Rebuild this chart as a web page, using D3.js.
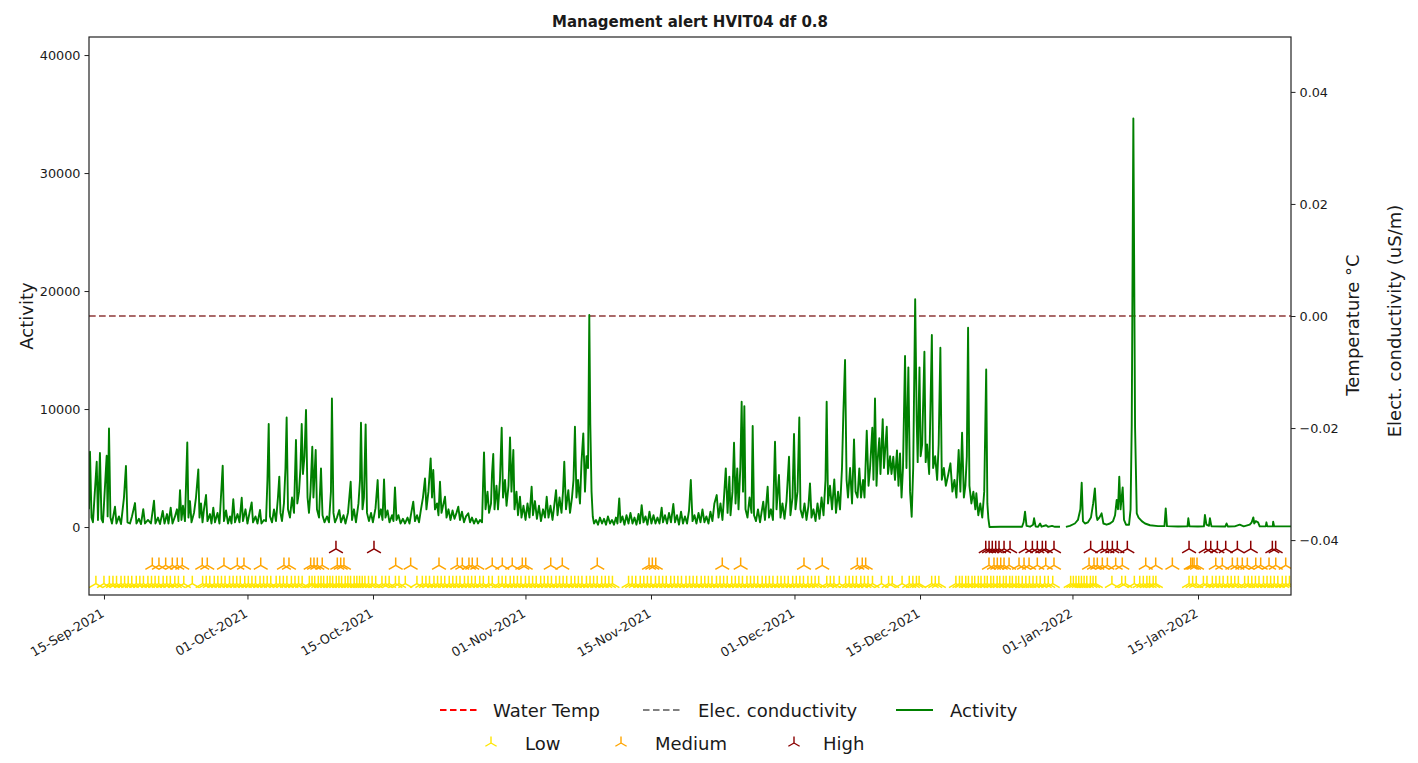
<!DOCTYPE html>
<html><head><meta charset="utf-8">
<script src="https://cdn.jsdelivr.net/npm/d3@7"></script>
<style>
body{margin:0;background:#fff}
text{font-family:"DejaVu Sans",sans-serif;fill:#1a1a1a}
</style>
</head><body>
<svg id="chart" width="1418" height="763"></svg>
<script>
// ---------------- DATA ----------------
// time is given as days since 15-Sep-2021 00:00
const dayZero = new Date(2021, 8, 15);
const xDomainDays = [-1.67, 132.37];

const activity = [
[-1.67,1500],[-1.56,6380],[-1.39,800],[-1.23,400],[-0.81,5530],[-0.67,600],[-0.45,6270],[-0.28,700],[-0.11,400],
[0.30,6040],[0.41,900],[0.56,8360],[0.72,800],[0.89,300],[1.23,1720],[1.39,300],[1.67,900],[1.90,250],[2.23,2500],
[2.45,5170],[2.62,400],[2.90,300],[3.12,900],[3.46,2030],[3.62,300],[3.90,700],[4.13,250],[4.38,1520],[4.57,300],
[4.91,600],[5.24,300],[5.58,2230],[5.74,300],[6.02,800],[6.25,250],[6.55,1360],[6.75,300],[7.03,1100],[7.19,300],
[7.44,1640],[7.64,300],[7.92,900],[8.14,1500],[8.31,500],[8.48,3130],[8.64,600],[8.81,1800],[9.03,500],[9.29,7170],
[9.42,800],[9.59,2200],[9.76,400],[10.04,1200],[10.26,2500],[10.52,4890],[10.65,800],[10.82,2000],[10.99,400],
[11.15,1500],[11.38,2710],[11.54,500],[11.82,1100],[11.99,300],[12.19,1640],[12.38,400],[12.66,1200],[12.88,300],
[13.24,5200],[13.38,500],[13.61,1400],[13.83,300],[14.05,900],[14.22,300],[14.42,2350],[14.61,400],[14.89,1100],
[15.11,400],[15.36,2480],[15.50,500],[15.78,1500],[16.00,300],[16.23,1200],[16.47,2090],[16.62,400],[16.90,900],
[17.12,300],[17.40,1440],[17.56,300],[17.84,600],[18.07,500],[18.23,4000],[18.37,8730],[18.51,900],[18.74,400],
[18.96,1500],[19.18,500],[19.40,2500],[19.55,4270],[19.68,1200],[19.85,500],[20.07,2000],[20.24,5000],[20.37,9290],
[20.52,1500],[20.74,800],[20.97,2500],[21.19,1200],[21.41,7370],[21.56,2000],[21.75,3000],[21.91,5000],[22.05,8730],
[22.19,4500],[22.36,6000],[22.53,9920],[22.70,2500],[22.86,1200],[23.03,3000],[23.23,6810],[23.36,2500],[23.61,6530],
[23.75,1500],[23.98,800],[24.20,4970],[24.37,1000],[24.59,400],[24.87,900],[25.09,400],[25.31,3000],[25.42,10900],
[25.59,1200],[25.76,400],[25.98,800],[26.24,1440],[26.43,400],[26.71,1000],[26.93,300],[27.21,1200],[27.51,3840],
[27.66,600],[27.88,1500],[28.10,400],[28.38,2000],[28.55,4000],[28.66,8840],[28.83,1500],[28.99,2500],[29.18,8700],
[29.33,1200],[29.55,500],[29.78,1200],[29.99,400],[30.28,1600],[30.52,3980],[30.67,800],[30.89,1500],[31.06,600],
[31.23,4040],[31.39,800],[31.62,1400],[31.84,400],[32.12,1000],[32.28,500],[32.45,3360],[32.62,600],[32.84,1000],
[33.07,300],[33.34,700],[33.57,300],[33.85,800],[34.07,300],[34.29,1300],[34.49,2150],[34.68,500],[34.91,1000],
[35.13,400],[35.35,1500],[35.57,2500],[35.80,4120],[35.96,1500],[36.18,3000],[36.43,5820],[36.58,2500],[36.72,4830],
[36.91,1500],[37.14,2000],[37.30,1000],[37.47,3840],[37.64,1200],[37.81,1800],[38.03,2570],[38.20,800],[38.42,1500],
[38.64,600],[38.87,1400],[39.09,700],[39.31,1200],[39.51,1720],[39.70,600],[39.92,1300],[40.15,400],[40.37,900],
[40.63,1160],[40.82,400],[41.04,800],[41.26,300],[41.49,700],[41.71,300],[41.93,600],[42.16,400],[42.27,3500],
[42.38,6330],[42.55,1500],[42.77,3000],[42.94,1200],[43.16,2000],[43.27,4500],[43.41,6190],[43.55,1500],[43.77,3500],
[43.94,1500],[44.16,4000],[44.35,8420],[44.50,2500],[44.72,4000],[44.89,1800],[45.11,3500],[45.28,7600],[45.44,3000],
[45.65,6530],[45.78,1500],[46.00,3000],[46.17,1000],[46.39,2570],[46.56,800],[46.78,1800],[47.01,600],[47.23,2000],
[47.45,800],[47.69,3420],[47.84,1000],[48.06,2200],[48.28,700],[48.51,1800],[48.73,500],[48.96,1500],[49.18,800],
[49.37,2570],[49.57,800],[49.79,1800],[50.02,600],[50.24,2000],[50.41,3130],[50.58,1000],[50.80,2500],[51.02,1200],
[51.19,3000],[51.33,5530],[51.52,1500],[51.78,3130],[51.97,1200],[52.19,2500],[52.36,4000],[52.52,8500],[52.69,2500],
[52.86,4000],[53.08,2000],[53.25,5500],[53.45,7940],[53.64,3000],[53.81,6000],[53.98,5000],[54.12,17970],[54.23,8810],
[54.37,3000],[54.51,870],[54.65,300],[54.87,600],[55.09,200],[55.31,800],[55.54,300],[55.76,700],[55.98,200],
[56.20,900],[56.43,300],[56.65,600],[56.87,200],[57.09,800],[57.26,300],[57.46,2430],[57.60,400],[57.82,900],
[58.04,200],[58.27,1000],[58.49,300],[58.71,1200],[58.94,300],[59.16,800],[59.38,200],[59.61,1100],[59.77,300],
[59.96,1860],[60.16,400],[60.39,900],[60.61,200],[60.83,1300],[61.05,300],[61.28,1000],[61.50,300],[61.72,800],
[61.95,300],[62.19,1640],[62.34,400],[62.56,1000],[62.79,300],[63.01,1200],[63.23,400],[63.49,1950],[63.68,400],
[63.90,1000],[64.12,200],[64.35,1300],[64.57,300],[64.79,900],[65.02,300],[65.24,1400],[65.44,3980],[65.63,500],
[65.85,1000],[66.07,300],[66.30,1200],[66.52,400],[66.74,1500],[66.96,400],[67.18,900],[67.41,300],[67.63,1300],
[67.85,500],[68.07,2000],[68.33,2710],[68.53,800],[68.75,2000],[68.97,600],[69.14,2500],[69.34,4970],[69.54,1200],
[69.74,4270],[69.87,1000],[70.09,3000],[70.26,7150],[70.43,2000],[70.62,4970],[70.76,1500],[70.96,5000],[71.11,10620],
[71.26,3000],[71.41,10250],[71.54,1500],[71.76,800],[71.99,2500],[72.21,1200],[72.34,8560],[72.49,1000],[72.71,500],
[72.93,1500],[73.16,400],[73.32,1200],[73.52,2150],[73.71,600],[74.01,3420],[74.16,800],[74.38,1500],[74.60,600],
[74.83,7230],[75.00,1500],[75.27,4410],[75.44,800],[75.66,2000],[75.89,700],[76.11,2200],[76.39,5960],[76.55,1000],
[76.78,2500],[76.95,7880],[77.11,1500],[77.34,3000],[77.54,9290],[77.67,1500],[77.90,800],[78.12,2000],[78.34,600],
[78.56,1800],[78.73,3700],[78.90,800],[79.12,1500],[79.35,500],[79.57,2000],[79.79,700],[80.02,2500],[80.24,1000],
[80.46,4000],[80.59,10620],[80.74,2000],[80.96,3500],[81.19,1500],[81.44,4040],[81.63,1200],[81.86,3000],[82.08,1500],
[82.30,5000],[82.45,9630],[82.64,14150],[82.81,4000],[82.97,2500],[83.20,5000],[83.42,2000],[83.64,7430],[83.81,3000],
[84.03,2500],[84.23,4970],[84.42,2500],[84.65,4000],[84.81,2500],[85.06,8160],[85.26,3500],[85.43,5000],[85.68,8420],
[85.81,4000],[85.98,10900],[86.15,3500],[86.26,5500],[86.46,7520],[86.59,4500],[86.84,9130],[86.98,5000],[87.29,8500],
[87.43,4500],[87.66,6000],[87.82,4500],[88.02,5960],[88.21,4000],[88.43,6500],[88.60,3500],[88.77,6240],[88.94,2500],
[89.10,5000],[89.33,14490],[89.49,5000],[89.70,13530],[89.89,3000],[90.07,870],[90.24,5000],[90.46,19300],[90.63,9000],
[90.74,5500],[90.94,13530],[91.07,6000],[91.24,7000],[91.49,14860],[91.63,5500],[91.79,7000],[92.02,4500],[92.32,16270],
[92.46,5000],[92.69,6000],[92.91,4000],[93.08,7000],[93.27,15200],[93.43,4000],[93.66,5000],[93.88,3500],[94.16,4500],
[94.39,5400],[94.61,3000],[94.84,4000],[95.06,2500],[95.31,6530],[95.50,3000],[95.69,7990],[95.89,2500],[96.06,3500],
[96.22,6000],[96.36,16890],[96.51,3500],[96.73,2000],[96.95,3000],[97.17,1500],[97.28,2860],[97.50,1000],[97.72,2000],
[97.94,800],[98.16,3000],[98.27,8080],[98.38,13360],[98.51,2000],[98.62,740],[98.75,0],[99.93,20],[101.04,30],
[102.38,20],[102.55,400],[102.71,1300],[102.88,100],[103.27,30],[103.61,200],[103.72,740],[103.89,50],[104.17,30],
[104.39,300],[104.55,30],[105.06,150],[105.28,20],[105.72,100],[106.05,20],[106.61,20],[106.9,null],[107.27,20],
[107.71,100],[108.27,300],[108.61,600],[108.88,1500],[109.03,3750],[109.17,500],[109.39,300],[109.73,400],[110.06,800],
[110.31,2000],[110.50,3280],[110.67,1000],[110.78,600],[111.00,800],[111.25,1160],[111.45,300],[111.81,200],[112.18,300],
[112.52,500],[112.75,1000],[112.93,2290],[113.08,1500],[113.22,4270],[113.36,1500],[113.60,3360],[113.75,600],[113.97,200],
[114.31,200],[114.48,1500],[114.61,8640],[114.79,34630],[114.98,8500],[115.17,1160],[115.37,800],[115.73,500],[116.09,300],
[116.65,150],[117.54,80],[118.26,80],[118.40,1580],[118.54,80],[119.77,50],[120.83,60],[120.92,740],[121.05,60],
[121.99,50],[122.66,60],[122.77,1020],[122.94,200],[123.22,100],[123.33,740],[123.50,60],[125.05,50],[125.18,300],
[125.32,50],[126.10,60],[126.65,200],[127.10,60],[127.77,200],[127.99,400],[128.17,820],[128.27,300],[128.44,500],
[128.70,400],[128.88,60],[129.55,60],[129.63,400],[129.72,60],[130.34,60],[130.38,450],[130.49,60],[132.37,60]
];

const lowAlerts = [-0.9,0.0,0.6,1.0,1.4,1.9,2.3,2.7,3.1,3.6,4.0,4.4,4.9,5.3,5.7,6.1,6.6,7.0,7.4,7.9,8.3,8.9,9.85,
11.0,11.4,11.8,12.3,12.7,13.1,13.5,14.0,14.4,14.8,15.2,15.7,16.1,16.5,16.9,17.4,17.8,18.2,18.6,
19.2,19.6,20.0,20.4,20.9,21.3,21.7,22.1,22.9,23.2,23.5,23.9,24.2,24.5,24.9,25.2,25.5,25.9,26.2,26.5,26.9,27.2,27.5,27.9,
28.2,28.5,28.8,29.1,29.5,29.9,30.3,31.0,31.4,31.8,32.5,32.9,33.6,34.9,
35.5,35.9,36.3,36.8,37.2,37.6,38.0,38.5,38.9,39.3,39.7,40.2,40.6,41.0,41.4,41.9,42.3,42.9,43.3,
44.0,44.4,44.8,45.3,45.7,46.1,46.5,47.0,47.4,47.8,48.2,48.7,49.1,49.5,49.9,50.4,50.8,51.2,51.6,52.1,52.5,52.9,53.3,53.8,
54.2,54.6,55.0,55.5,55.9,56.3,56.7,
58.5,58.9,59.3,59.8,60.2,60.6,61.0,61.5,61.9,62.3,62.7,63.2,63.6,64.0,64.4,64.9,65.3,65.7,66.1,66.6,67.0,67.4,67.8,68.3,
68.7,69.1,69.5,70.0,70.4,70.8,71.2,71.7,72.1,72.5,72.9,73.4,73.8,74.2,74.6,75.1,75.5,75.9,76.3,76.8,77.2,77.6,78.0,78.5,
78.9,79.3,79.7,80.6,81.0,81.4,82.0,82.7,83.1,83.5,83.9,84.4,84.8,85.2,85.7,
86.7,87.5,87.9,89.0,89.8,90.2,90.6,90.9,92.3,92.7,93.1,
95.0,95.4,95.7,96.1,96.4,96.8,97.1,97.5,97.8,98.2,98.5,98.9,99.2,99.6,99.9,100.3,100.6,101.0,101.3,101.7,102.0,102.4,
102.8,103.2,103.6,104.0,104.4,104.9,105.3,105.8,
107.8,108.1,108.4,108.7,109.0,109.3,109.6,110.0,110.3,110.6,
112.4,113.5,113.9,114.9,115.5,115.9,116.3,116.6,117.0,117.3,
121.0,121.4,121.8,122.6,123.0,123.6,124.0,124.4,124.8,125.3,125.7,126.1,126.5,127.2,127.6,128.0,128.4,128.8,129.3,129.7,
130.1,130.5,130.9,131.4,131.8,132.2];

const mediumAlerts = [5.39,6.13,6.88,7.62,8.17,8.73,10.96,11.52,13.38,14.87,15.61,17.48,20.07,20.63,
23.05,23.42,23.79,24.34,26.02,26.40,26.76,32.53,34.20,37.36,39.40,39.96,40.70,41.07,41.63,
43.30,44.42,45.53,46.65,47.03,49.82,51.11,55.01,60.78,61.15,61.53,68.95,71.00,78.06,80.10,84.01,84.56,84.94,
98.69,99.25,99.62,100.0,100.37,100.93,102.04,102.60,103.16,104.08,105.02,105.94,
109.85,110.40,110.77,111.33,111.89,112.82,113.56,116.17,117.28,119.14,121.19,121.37,121.56,121.89,
123.98,124.71,125.83,126.39,126.94,127.50,128.44,128.99,129.92,130.67,131.78];

const highAlerts = [25.87,30.11,98.33,98.70,99.06,99.44,99.81,100.37,101.04,102.79,103.53,104.08,104.64,105.02,105.94,
110.03,111.33,111.89,112.45,113.0,114.12,121.0,122.86,123.42,124.16,125.09,126.39,127.88,130.29,130.66];

// activity-axis level where each alert row is drawn
const alertLevels = [["Low", -4800, "#ffe600"], ["Medium", -3250, "#ffa500"], ["High", -1850, "#8b0000"]];

const waterTempValue = 0;      // flat series
const elecCondValue = 0;       // flat series

const xTickDays = [0, 16, 30, 47, 61, 77, 91, 108, 122];
const leftTicks = [0, 10000, 20000, 30000, 40000];
const rightTicks = [-0.04, -0.02, 0.0, 0.02, 0.04];
const leftDomain = [-5760, 41530];
const rightDomain = [-0.0498, 0.0498];

const titleText = "Management alert HVIT04 df 0.8";
const legendRow1 = [["Water Temp","#ff0000","dash"],["Elec. conductivity","#808080","dash"],["Activity","#008000","solid"]];

// ---------------- CHART ----------------
const toDate = d => new Date(dayZero.getTime() + d * 86400000);
const svg = d3.select("#chart");
const M = {l: 89, r: 1291, t: 37, b: 595};

const x = d3.scaleTime().domain(xDomainDays.map(toDate)).range([M.l, M.r]);
const y = d3.scaleLinear().domain(leftDomain).range([M.b, M.t]);
const y2 = d3.scaleLinear().domain(rightDomain).range([M.b, M.t]);

svg.append("defs").append("clipPath").attr("id","clip")
  .append("rect").attr("x",M.l).attr("y",M.t).attr("width",M.r-M.l).attr("height",M.b-M.t);

const plot = svg.append("g").attr("clip-path","url(#clip)");

// flat temperature / conductivity series on right axis
plot.append("line").attr("x1",M.l).attr("x2",M.r)
  .attr("y1",y2(waterTempValue)).attr("y2",y2(waterTempValue))
  .attr("stroke","#ff0000").attr("stroke-width",1.6).attr("stroke-dasharray","6.5,3.5");
plot.append("line").attr("x1",M.l).attr("x2",M.r)
  .attr("y1",y2(elecCondValue)).attr("y2",y2(elecCondValue))
  .attr("stroke","#808080").attr("stroke-opacity",0.9).attr("stroke-width",1.6).attr("stroke-dasharray","6.5,3.5");

// activity line
const line = d3.line().defined(d => d[1] !== null)
  .x(d => x(toDate(d[0]))).y(d => y(d[1]));
plot.append("path").datum(activity).attr("d",line)
  .attr("fill","none").attr("stroke","#008000").attr("stroke-width",1.9).attr("stroke-linejoin","round");

// tri_up marker
const tri = r => `M0,0L0,${-r}M0,0L${-0.866*r},${0.5*r}M0,0L${0.866*r},${0.5*r}`;
const alertSets = {Low: lowAlerts, Medium: mediumAlerts, High: highAlerts};
alertLevels.forEach(([name, lvl, col]) => {
  plot.append("g").selectAll("path").data(alertSets[name]).join("path")
    .attr("d", tri(8))
    .attr("transform", d => `translate(${x(toDate(d))},${y(lvl)})`)
    .attr("fill","none").attr("stroke",col).attr("stroke-width",1.5);
});

// frame
svg.append("rect").attr("x",M.l).attr("y",M.t).attr("width",M.r-M.l).attr("height",M.b-M.t)
  .attr("fill","none").attr("stroke","#222").attr("stroke-width",1.2);

// axes
const fmt = d3.timeFormat("%d-%b-%Y");
const xAxis = svg.append("g").attr("transform",`translate(0,${M.b})`)
  .call(d3.axisBottom(x).tickValues(xTickDays.map(toDate)).tickFormat(fmt).tickSize(4.5).tickPadding(3));
xAxis.select(".domain").remove();
xAxis.selectAll("line").attr("stroke","#222");
xAxis.selectAll("text").attr("font-size","12.8px")
  .attr("text-anchor","end").attr("dy",null).attr("y",null)
  .attr("transform","translate(0,11) rotate(-30)")
  .attr("x",-4.5).attr("y",8.9);

const yAxis = svg.append("g").attr("transform",`translate(${M.l},0)`)
  .call(d3.axisLeft(y).tickValues(leftTicks).tickFormat(d3.format("d")).tickSize(4.5).tickPadding(4));
yAxis.select(".domain").remove();
yAxis.selectAll("line").attr("stroke","#222");
yAxis.selectAll("text").attr("font-size","12.8px");

const y2Axis = svg.append("g").attr("transform",`translate(${M.r},0)`)
  .call(d3.axisRight(y2).tickValues(rightTicks).tickFormat(d => d3.format(".2f")(d).replace("-","\u2212")).tickSize(4.5).tickPadding(4));
y2Axis.select(".domain").remove();
y2Axis.selectAll("line").attr("stroke","#222");
y2Axis.selectAll("text").attr("font-size","12.8px");

// title & labels
svg.append("text").attr("x",(M.l+M.r)/2).attr("y",27).attr("text-anchor","middle")
  .attr("font-size","15px").attr("font-weight","bold").text(titleText);
svg.append("text").attr("transform",`translate(33,${(M.t+M.b)/2}) rotate(-90)`).attr("text-anchor","middle")
  .attr("font-size","18px").text("Activity");
svg.append("text").attr("transform",`translate(1359,${(M.t+M.b)/2+9}) rotate(-90)`).attr("text-anchor","middle")
  .attr("font-size","18px").text("Temperature °C");
svg.append("text").attr("transform",`translate(1401,${(M.t+M.b)/2+5}) rotate(-90)`).attr("text-anchor","middle")
  .attr("font-size","18px").text("Elect. conductivity (uS/m)");

// legend row 1
const row1X = [[440, 493], [643, 698], [896, 950]];
legendRow1.forEach(([label,col,style],i) => {
  const [hx, tx] = row1X[i];
  svg.append("line").attr("x1",hx).attr("x2",hx+37).attr("y1",710).attr("y2",710)
    .attr("stroke",col).attr("stroke-width",1.8).attr("stroke-dasharray",style==="dash"?"6.5,3.5":null);
  svg.append("text").attr("x",tx).attr("y",716.5).attr("font-size","18px").text(label);
});
// legend row 2
const row2X = [[491, 525], [621, 655], [794, 823]];
alertLevels.forEach(([name,lvl,col],i) => {
  const [mx, tx] = row2X[i];
  svg.append("path").attr("d",tri(6.5)).attr("transform",`translate(${mx},${743})`)
    .attr("fill","none").attr("stroke",col).attr("stroke-width",1.4);
  svg.append("text").attr("x",tx).attr("y",749.5).attr("font-size","18px").text(name);
});
</script>
</body></html>
